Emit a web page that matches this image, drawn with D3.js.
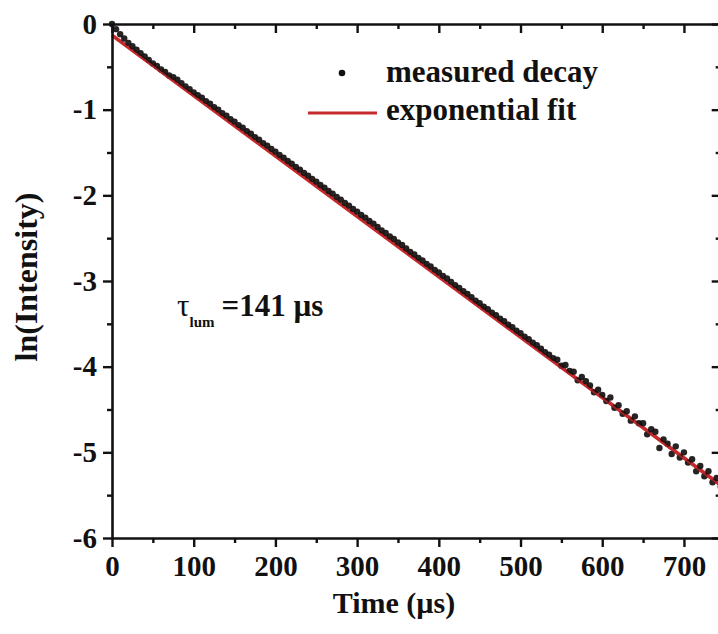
<!DOCTYPE html>
<html>
<head>
<meta charset="utf-8">
<script src="https://cdn.jsdelivr.net/npm/d3@7"></script>
<style>
  html, body { margin: 0; padding: 0; background: #fff; }
  svg { display: block; }
  text { font-family: "Liberation Serif", "Times New Roman", serif; font-weight: bold; fill: #111; }
</style>
</head>
<body>
<svg id="chart" width="718" height="634"></svg>
<script>
// ---- data ----
const timeUs = [
  0,5,10,15,20,25,30,35,40,45,50,55,60,65,70,75,80,85,90,95,
  100,105,110,115,120,125,130,135,140,145,150,155,160,165,170,175,180,185,190,195,
  200,205,210,215,220,225,230,235,240,245,250,255,260,265,270,275,280,285,290,295,
  300,305,310,315,320,325,330,335,340,345,350,355,360,365,370,375,380,385,390,395,
  400,405,410,415,420,425,430,435,440,445,450,455,460,465,470,475,480,485,490,495,
  500,505,510,515,520,525,530,535,540,545,550,555,560,565,570,575,580,585,590,595,
  600,605,610,615,620,625,630,635,640,645,650,655,660,665,670,675,680,685,690,695,
  700,705,710,715,720,725,730,735,740,745
];
const lnIntensity = [
  0.00,-0.06,-0.12,-0.17,-0.22,-0.26,-0.30,-0.34,-0.38,-0.42,-0.46,-0.49,-0.53,-0.56,-0.60,-0.62,-0.65,-0.69,-0.73,-0.76,
  -0.80,-0.83,-0.86,-0.90,-0.93,-0.97,-1.00,-1.04,-1.07,-1.11,-1.14,-1.18,-1.21,-1.25,-1.28,-1.32,-1.35,-1.39,-1.42,-1.46,
  -1.49,-1.53,-1.56,-1.60,-1.63,-1.67,-1.70,-1.74,-1.77,-1.81,-1.84,-1.88,-1.91,-1.95,-1.98,-2.02,-2.05,-2.09,-2.12,-2.16,
  -2.19,-2.23,-2.26,-2.30,-2.33,-2.37,-2.41,-2.44,-2.48,-2.51,-2.55,-2.58,-2.62,-2.66,-2.69,-2.73,-2.76,-2.80,-2.83,-2.87,
  -2.90,-2.94,-2.97,-3.01,-3.05,-3.08,-3.12,-3.15,-3.19,-3.23,-3.26,-3.30,-3.33,-3.37,-3.40,-3.44,-3.47,-3.51,-3.54,-3.58,
  -3.61,-3.65,-3.68,-3.72,-3.75,-3.79,-3.83,-3.86,-3.90,-3.92,-3.99,-3.98,-4.05,-4.06,-4.16,-4.12,-4.17,-4.22,-4.30,-4.27,
  -4.33,-4.40,-4.36,-4.48,-4.45,-4.55,-4.52,-4.63,-4.58,-4.66,-4.66,-4.79,-4.73,-4.76,-4.95,-4.85,-4.90,-5.02,-4.93,-5.06,
  -5.00,-5.12,-5.08,-5.22,-5.16,-5.28,-5.22,-5.35,-5.30,-5.40
];
// exponential fit (straight line in ln scale), endpoints
const fitTime = [0, 745];
const fitLn = [-0.13, -5.38];

const xTicks = [0,100,200,300,400,500,600,700];
const xMinorTicks = [50,150,250,350,450,550,650];
const yTicks = [0,-1,-2,-3,-4,-5,-6];
const yMinorTicks = [-0.5,-1.5,-2.5,-3.5,-4.5,-5.5];

const legendLabels = ["measured decay", "exponential fit"];
const xTitle = "Time (\u00b5s)";
const yTitle = "ln(Intensity)";

// ---- drawing ----
const svg = d3.select("#chart");
const mLeft = 112, mTop = 24, mRight = 720.7, mBottom = 538;
const x = d3.scaleLinear().domain([0, 745]).range([mLeft, mRight]);
const y = d3.scaleLinear().domain([-6, 0]).range([mBottom, mTop]);
const red = "#c62a2c";
const fitLine = d3.line().x(d => x(d[0])).y(d => y(d[1]));
const fitData = fitTime.map((t, i) => [t, fitLn[i]]);

// fit line (under the dots)
svg.append("path")
  .datum(fitData)
  .attr("d", fitLine)
  .attr("stroke", red)
  .attr("stroke-width", 3.6)
  .attr("fill", "none");

// data dots
svg.append("g").selectAll("circle")
  .data(timeUs.map((t, i) => [t, lnIntensity[i]]))
  .join("circle")
  .attr("cx", d => x(d[0]))
  .attr("cy", d => y(d[1]))
  .attr("r", 3.2)
  .attr("fill", "#161010")
  .attr("fill-opacity", 0.92);

// thin translucent fit line on top, so the band looks mixed
svg.append("path")
  .datum(fitData)
  .attr("d", fitLine)
  .attr("transform", "translate(0,1)")
  .attr("stroke", red)
  .attr("stroke-width", 2)
  .attr("stroke-opacity", 0.7)
  .attr("fill", "none");

// axes
function styleAxis(g) {
  g.selectAll("path.domain").attr("stroke", "#111").attr("stroke-width", 2.6);
  g.selectAll(".tick line").attr("stroke", "#111").attr("stroke-width", 2.4);
}
const bottomAxis = svg.append("g").attr("transform", `translate(0,${mBottom})`)
  .call(d3.axisBottom(x).tickValues(xTicks).tickSize(9).tickSizeOuter(0).tickPadding(8).tickFormat(d3.format("d")));
bottomAxis.call(styleAxis);
bottomAxis.selectAll("text").style("font-size", "29px").attr("fill", "#111");
svg.append("g").attr("transform", `translate(0,${mBottom})`)
  .call(d3.axisBottom(x).tickValues(xMinorTicks).tickSize(5).tickSizeOuter(0).tickFormat(""))
  .call(styleAxis).select("path.domain").remove();

const topAxis = svg.append("g").attr("transform", `translate(0,${mTop})`)
  .call(d3.axisBottom(x).tickValues(xTicks).tickSize(9).tickSizeOuter(0).tickFormat(""));
topAxis.call(styleAxis);
svg.append("g").attr("transform", `translate(0,${mTop})`)
  .call(d3.axisBottom(x).tickValues(xMinorTicks).tickSize(5).tickSizeOuter(0).tickFormat(""))
  .call(styleAxis).select("path.domain").remove();

const leftAxis = svg.append("g").attr("transform", `translate(${mLeft},0)`)
  .call(d3.axisLeft(y).tickValues(yTicks).tickSize(9).tickSizeOuter(0).tickPadding(6).tickFormat(d => d3.format("d")(d).replace("\u2212", "-")));
leftAxis.call(styleAxis);
leftAxis.selectAll("text").style("font-size", "29px").attr("fill", "#111");
svg.append("g").attr("transform", `translate(${mLeft},0)`)
  .call(d3.axisLeft(y).tickValues(yMinorTicks).tickSize(5).tickSizeOuter(0).tickFormat(""))
  .call(styleAxis).select("path.domain").remove();

svg.append("g").attr("transform", `translate(${mRight},0)`)
  .call(d3.axisRight(y).tickValues(yTicks).tickSize(-9).tickSizeOuter(0).tickFormat(""))
  .call(styleAxis);
svg.append("g").attr("transform", `translate(${mRight},0)`)
  .call(d3.axisRight(y).tickValues(yMinorTicks).tickSize(-5).tickSizeOuter(0).tickFormat(""))
  .call(styleAxis).select("path.domain").remove();

// axis titles
svg.append("text").attr("x", 394).attr("y", 613).attr("text-anchor", "middle")
  .style("font-size", "30px").text(xTitle);
svg.append("text").attr("transform", "translate(37,277) rotate(-90)").attr("text-anchor", "middle")
  .style("font-size", "32px").text(yTitle);

// legend
svg.append("circle").attr("cx", 342).attr("cy", 73).attr("r", 3.3).attr("fill", "#111");
svg.append("text").attr("x", 386).attr("y", 82).style("font-size", "31px").text(legendLabels[0]);
svg.append("line").attr("x1", 308).attr("x2", 377).attr("y1", 113).attr("y2", 113)
  .attr("stroke", red).attr("stroke-width", 3);
svg.append("text").attr("x", 386).attr("y", 120).style("font-size", "31px").text(legendLabels[1]);

// lifetime annotation
const ann = svg.append("text").attr("x", 177).attr("y", 316).style("font-size", "31px");
ann.append("tspan").style("font-weight", "normal").text("\u03c4");
ann.append("tspan").attr("dy", 11).style("font-size", "15px").text("lum");
ann.append("tspan").attr("dy", -11).attr("dx", 7).text("=141 \u00b5s");
</script>
</body>
</html>
